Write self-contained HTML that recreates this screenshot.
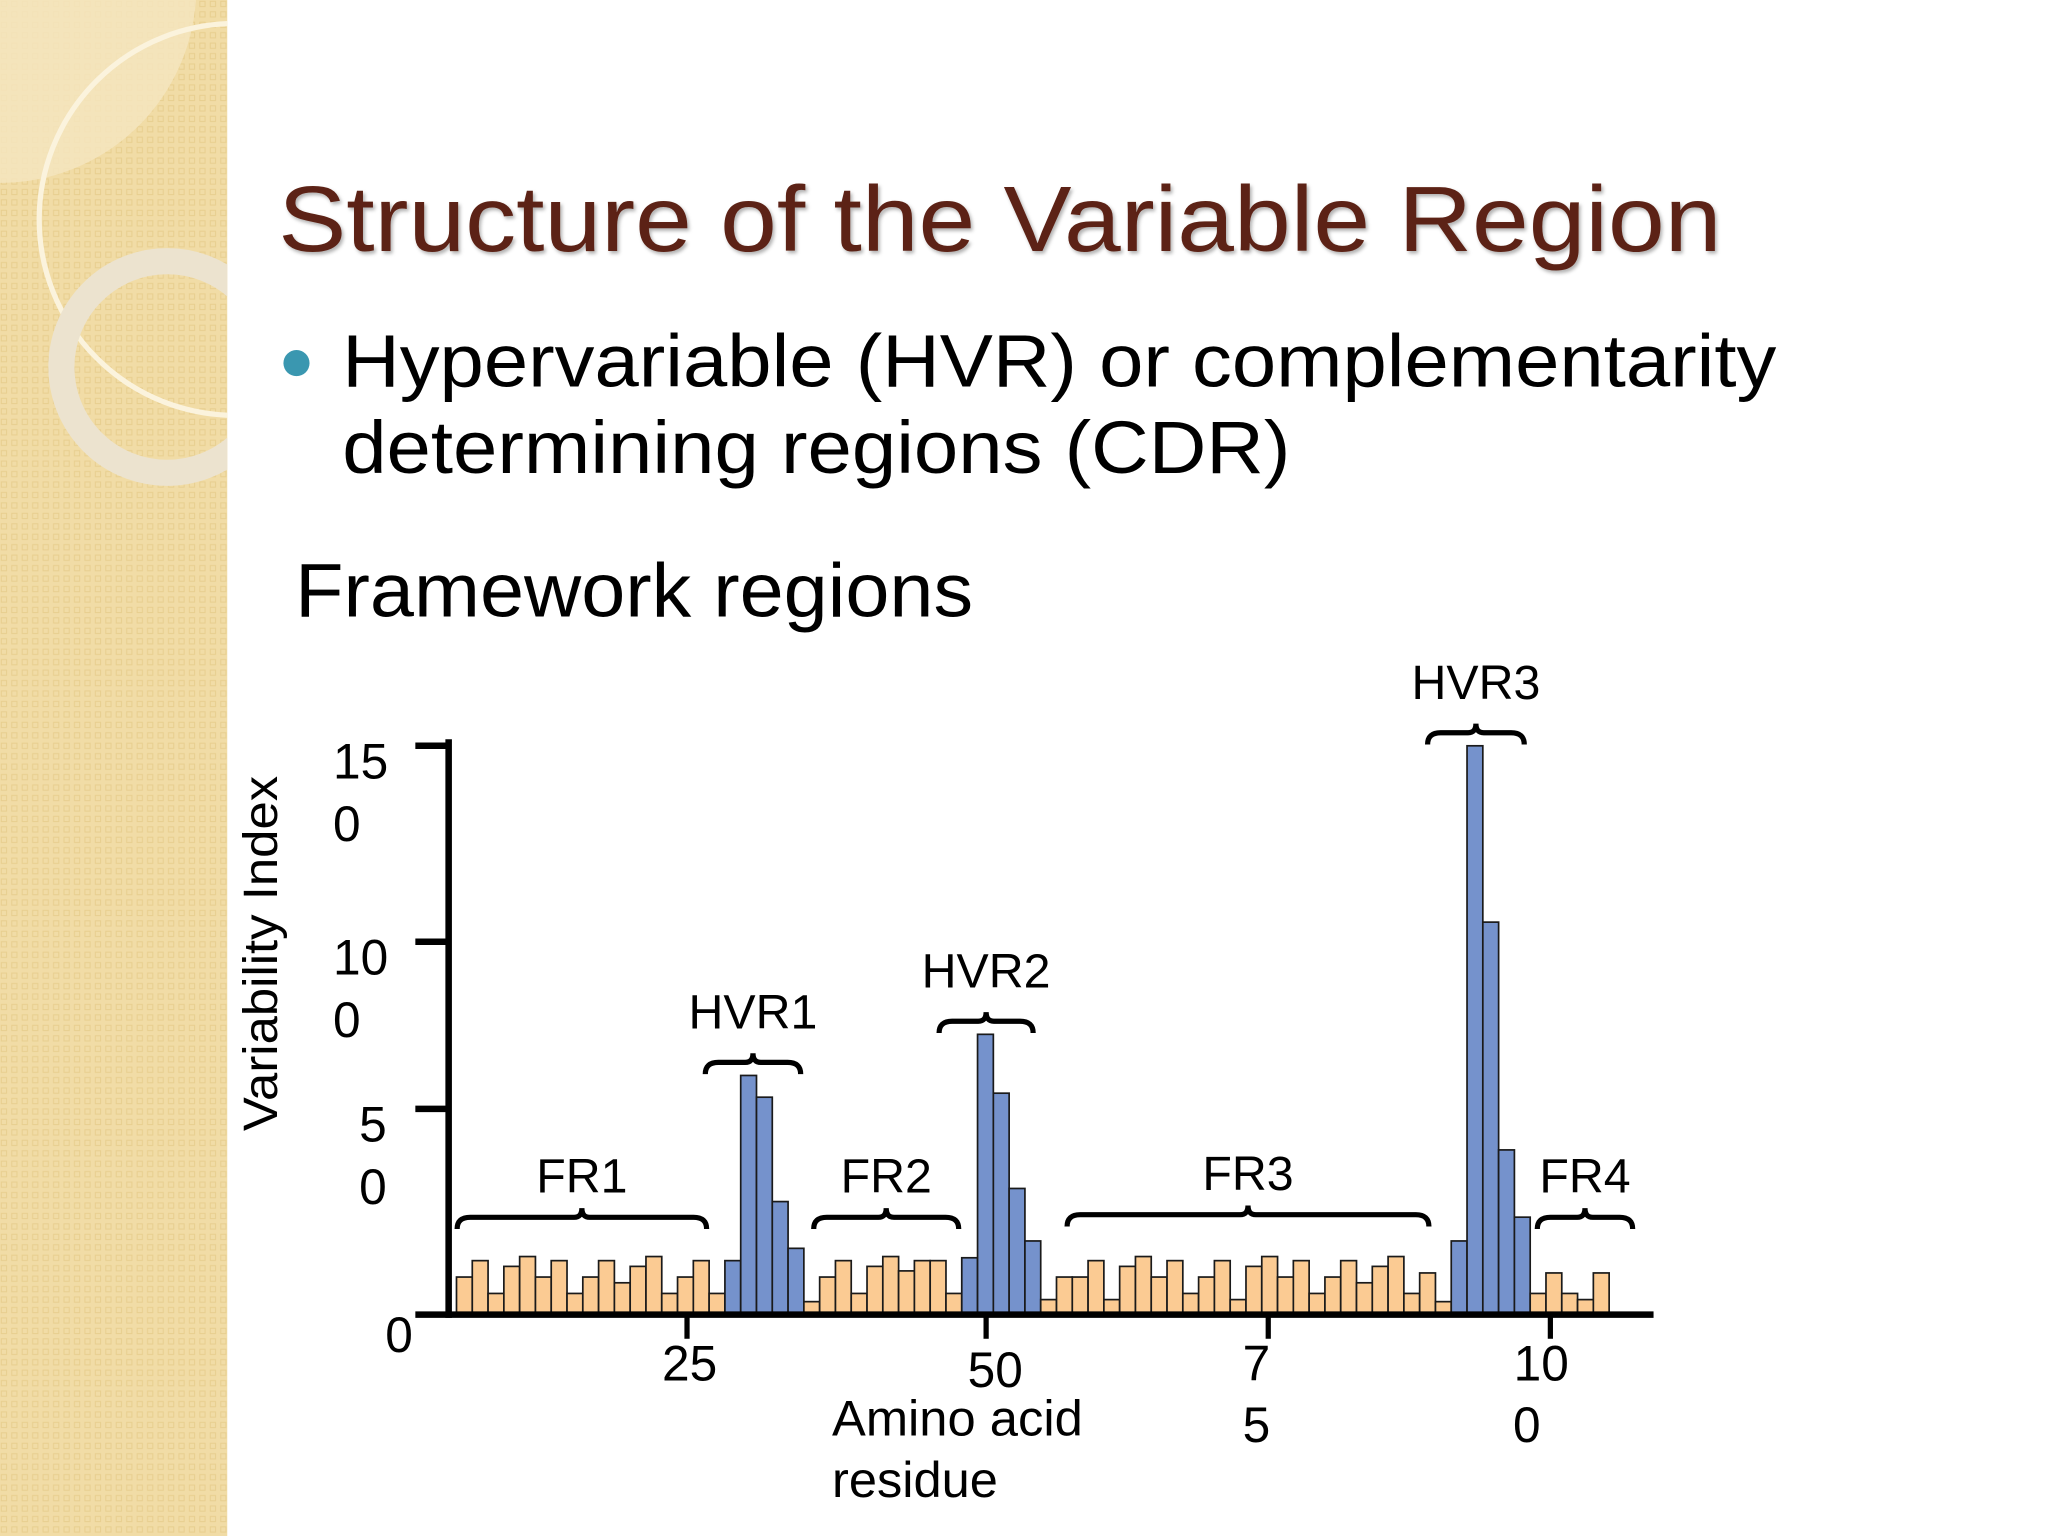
<!DOCTYPE html>
<html><head><meta charset="utf-8"><style>
html,body{margin:0;padding:0;background:#fff;}
svg{display:block;}
text{font-family:"Liberation Sans",Arial,sans-serif;}
</style></head><body>
<svg id="root" width="2048" height="1536" viewBox="0 0 1568 1176" preserveAspectRatio="none" xmlns="http://www.w3.org/2000/svg">
<defs>
<pattern id="chk" width="8" height="8" patternUnits="userSpaceOnUse">
<rect width="8" height="8" fill="#f1dca6"/><rect x="1" y="1" width="4" height="4" fill="none" stroke="#e8cf90" stroke-width="0.8"/>
</pattern>
<filter id="sh"><feDropShadow dx="1.5" dy="2" stdDeviation="1.5" flood-color="#000" flood-opacity="0.3"/></filter>
<clipPath id="sc"><rect x="0" y="0" width="174" height="1176"/></clipPath>
</defs>
<rect x="0" y="0" width="1568" height="1176" fill="#fff"/>
<g>
<rect x="0" y="0" width="174" height="1176" fill="url(#chk)"/>
<g clip-path="url(#sc)">
<path d="M0 140 A 150 150 0 0 0 150 0 L0 0Z" fill="#f5e6c0" opacity="0.8"/>
<circle cx="180" cy="168" r="150" fill="none" stroke="#fbf3dd" stroke-width="4"/>
<circle cx="128" cy="281" r="81" fill="none" stroke="#ece3cf" stroke-width="20"/>
</g>
</g>
<text x="213" y="192" font-size="71" textLength="1105" lengthAdjust="spacingAndGlyphs" fill="#5c2214" filter="url(#sh)">Structure of the Variable Region</text>
<circle cx="227" cy="278" r="10" fill="#3a97b0"/>
<text x="262" y="296" font-size="57" textLength="1098" lengthAdjust="spacingAndGlyphs" fill="#000">Hypervariable (HVR) or complementarity</text>
<text x="262" y="362" font-size="57" textLength="726" lengthAdjust="spacingAndGlyphs" fill="#000">determining regions (CDR)</text>
<text x="226" y="472" font-size="58" textLength="519" lengthAdjust="spacingAndGlyphs" fill="#000">Framework regions</text>
<g id="chart"></g>
</svg>
<script>
const values = [9,13,5,11.6,14,9,13,5,9,13,7.6,11.6,14,5,9,13,5,
  13,60,53.5,27.4,16,
  3,9,13,5,11.6,14,10.5,13,13,5,
  13.7,72.3,54.7,30.6,17.8,
  3.5,9,9,13,3.5,11.6,14,9,13,5,9,13,3.5,11.6,14,9,13,5,9,13,7.6,11.6,14,5,10,3,
  17.8,150,105,40,23.6,
  5,10,5,3.5,10];
const regions = ['fr','fr','fr','fr','fr','fr','fr','fr','fr','fr','fr','fr','fr','fr','fr','fr','fr',
  'hvr','hvr','hvr','hvr','hvr',
  'fr','fr','fr','fr','fr','fr','fr','fr','fr','fr',
  'hvr','hvr','hvr','hvr','hvr',
  'fr','fr','fr','fr','fr','fr','fr','fr','fr','fr','fr','fr','fr','fr','fr','fr','fr','fr','fr','fr','fr','fr','fr','fr','fr','fr',
  'hvr','hvr','hvr','hvr','hvr',
  'fr','fr','fr','fr','fr'];
const yTickValues = [0,50,100,150];
const yTickLines = [['0'],['5','0'],['10','0'],['15','0']];
const xTickValues = [25,50,75,100];
const xTickLines = [['25'],['50'],['7','5'],['10','0']];
const braceLabels = ['FR1','HVR1','FR2','HVR2','FR3','HVR3','FR4'];
const braceStart = [0,17,22,32,37,63,68];
const braceEnd = [17,22,32,37,63,68,73];

// layout (pixel) constants, not data
const braceLeft = [350,540,623,719,817,1093,1177];
const braceRight = [541,613,734,791,1094,1167,1250];
const braceY = [932,null,932,null,930,null,932];
const xLabelDx = [[2],[7],[-9,-9],[-7,-18]];

const NS='http://www.w3.org/2000/svg';
const g=document.getElementById('chart');
function el(t,a,p){const e=document.createElementNS(NS,t);for(const k in a)e.setAttribute(k,a[k]);(p||g).appendChild(e);return e;}
const yDom=[0,50,100,150], yRng=[1006,849,721,571];
function y(v){for(let i=1;i<yDom.length;i++){if(v<=yDom[i]||i===yDom.length-1){const t=(v-yDom[i-1])/(yDom[i]-yDom[i-1]);return yRng[i-1]+t*(yRng[i]-yRng[i-1]);}}}
const barX0=349.5, bw=(1232-349.5)/values.length;
function xb(i){return barX0+i*bw;}
const xDom=[25,50,75,100], xRng=[526,755,971,1187];
function xr(v){for(let i=1;i<xDom.length;i++){if(v<=xDom[i]||i===xDom.length-1){const t=(v-xDom[i-1])/(xDom[i]-xDom[i-1]);return xRng[i-1]+t*(xRng[i]-xRng[i-1]);}}}

const yt=el('text',{x:0,y:0,'font-size':37,'text-anchor':'middle',textLength:272,lengthAdjust:'spacingAndGlyphs',transform:'translate(212,730) rotate(-90)'});
yt.textContent='Variability Index';



values.forEach((v,i)=>{
  const r=el('rect',{x:xb(i),y:y(v),width:bw,height:1006-y(v),fill:regions[i]==='hvr'?'#7592cc':'#fbcb93',stroke:'#1a1a1a','stroke-width':1.3});
  
  
});
const ya=el('line',{x1:343.5,y1:566,x2:343.5,y2:1009,stroke:'#000','stroke-width':5});


const xa=el('line',{x1:318,y1:1006.5,x2:1266,y2:1006.5,stroke:'#000','stroke-width':5});


yTickValues.forEach((v,i)=>{
  if(v>0){const t=el('line',{x1:318,y1:y(v),x2:343,y2:y(v),stroke:'#000','stroke-width':5});
  
  }
  yTickLines[i].forEach((s,j)=>{
    const tx=el('text',{x:v===0?295:(v===50?275:255),y:(v===0?1035:y(v)+25)+j*48,'font-size':38});
    tx.textContent=s;
    
    
  });
});
xTickValues.forEach((v,i)=>{
  const t=el('line',{x1:xr(v),y1:1006,x2:xr(v),y2:1025,stroke:'#000','stroke-width':4});
  
  
  xTickLines[i].forEach((s,j)=>{
    const tx=el('text',{x:xr(v)+xLabelDx[i][j],y:(i===1?1062:1057)+j*47,'font-size':38,'text-anchor':'middle'});
    tx.textContent=s;
    
    
  });
});
const xt1=el('text',{x:637,y:1099,'font-size':38,textLength:192,lengthAdjust:'spacingAndGlyphs'});xt1.textContent='Amino acid';


const xt2=el('text',{x:637,y:1146,'font-size':38,textLength:127,lengthAdjust:'spacingAndGlyphs'});xt2.textContent='residue';



braceLabels.forEach((lab,k)=>{
  const s=braceStart[k], e=braceEnd[k];
  let maxV=0;for(let i=s;i<e;i++)maxV=Math.max(maxV,values[i]);
  const hvr=lab.startsWith('HVR');
  const x1=braceLeft[k], x2=braceRight[k];
  const by=hvr?y(maxV)-10:braceY[k];
  const m=(x1+x2)/2;
  const d=`M${x1} ${by+9} Q${x1} ${by} ${x1+10} ${by} L${m-6} ${by} Q${m} ${by} ${m} ${by-7} Q${m} ${by} ${m+6} ${by} L${x2-10} ${by} Q${x2} ${by} ${x2} ${by+9}`;
  const p=el('path',{d:d,fill:'none',stroke:'#000','stroke-width':4});
  
  
  const t=el('text',{x:m,y:hvr?by-26:by-19,'font-size':37,'text-anchor':'middle'});
  t.textContent=lab;
  
  
});
</script>
</body></html>
